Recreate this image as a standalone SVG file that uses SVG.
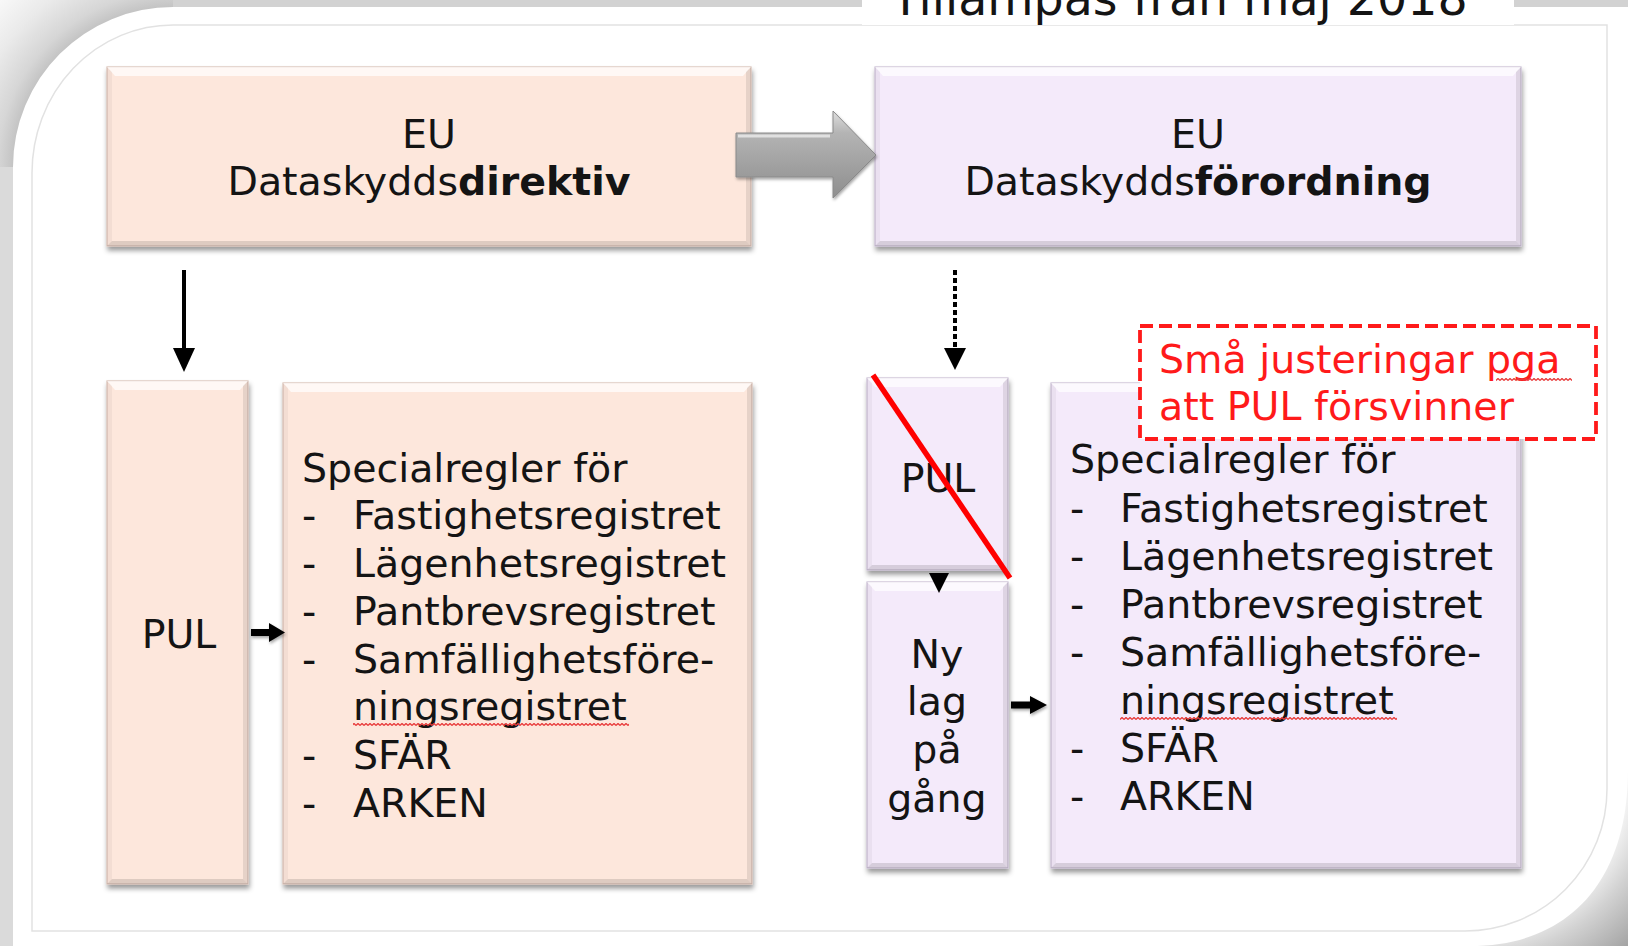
<svg xmlns="http://www.w3.org/2000/svg" width="1628" height="946" viewBox="0 0 1628 946">
<defs>
<style>
text{font-family:"DejaVu Sans",Verdana,"Liberation Sans",sans-serif;font-size:39.5px;fill:#141414}
.c{text-anchor:middle}
.b{font-weight:bold}
.peach{fill:#fde7dc;stroke:#d8bfb4;stroke-width:1.2}
.lav{fill:#f4eafa;stroke:#c8bcd2;stroke-width:1.2}
.hi{fill:#ffffff;opacity:.7}
.lo{fill:#000;opacity:.12}
.rs{fill:#000;opacity:.09}
.ls{fill:#000;opacity:.04}
.rt{fill:#ff1a1a}
.ar{fill:#000}
</style>
<filter id="sh" x="-10%" y="-10%" width="125%" height="130%"><feDropShadow dx="1" dy="4" stdDeviation="2.5" flood-color="#000" flood-opacity="0.4"/></filter>
<filter id="sh2" x="-20%" y="-20%" width="150%" height="160%"><feDropShadow dx="1" dy="2" stdDeviation="1.5" flood-color="#000" flood-opacity="0.35"/></filter>
<radialGradient id="tl" gradientUnits="userSpaceOnUse" cx="173" cy="167" r="240"><stop offset="0" stop-color="#c4c4c4"/><stop offset="0.667" stop-color="#c4c4c4"/><stop offset="0.73" stop-color="#d6d6d6"/><stop offset="0.86" stop-color="#eaeaea"/><stop offset="1" stop-color="#f8f8f8"/></radialGradient>
<radialGradient id="br" gradientUnits="userSpaceOnUse" cx="1470" cy="770" r="236"><stop offset="0" stop-color="#f2f2f2"/><stop offset="0.68" stop-color="#f2f2f2"/><stop offset="0.8" stop-color="#d2d2d2"/><stop offset="1" stop-color="#a4a4a4"/></radialGradient>
<linearGradient id="ga" x1="0" y1="0" x2="0" y2="1"><stop offset="0" stop-color="#dedede"/><stop offset="0.25" stop-color="#b4b4b4"/><stop offset="1" stop-color="#8e8e8e"/></linearGradient>
<pattern id="wavy" width="4" height="3" patternUnits="userSpaceOnUse"><path d="M0,2.5 L2,0.5 L4,2.5" fill="none" stroke="#e83a3a" stroke-width="1.3"/></pattern>
</defs>

<g id="page">
<rect x="0" y="0" width="1628" height="946" fill="#ffffff"/>
<path d="M0,0 L173,0 L173,7 A160,160 0 0 0 13,167 L0,167 Z" fill="url(#tl)"/>
<rect x="173" y="0" width="1455" height="7" fill="#d2d2d2"/>
<rect x="0" y="167" width="13" height="779" fill="#dadada"/>
<path d="M1628,770 C1628,880 1570,946 1470,946 L1628,946 Z" fill="url(#br)"/>
<path d="M173,25 H1607 V789 A142,142 0 0 1 1465,931 H32 V173 A141,148 0 0 1 173,25 Z" fill="none" stroke="#e2e2e2" stroke-width="1.5"/>
</g>

<g id="title">
<rect x="862" y="0" width="652" height="25" fill="#ffffff"/>
<text x="891" y="15" style="font-size:47.5px">Tillämpas från maj 2018</text>
</g>

<g id="node-direktiv">
<rect class="peach" x="107" y="67" width="644" height="179" filter="url(#sh)"/>
<polygon class="hi" points="107,67 751,67 743,76 115,76"/>
<polygon class="lo" points="107,246 751,246 746,241 112,241"/>
<polygon class="rs" points="751,67 751,246 746,241 746,72"/>
<polygon class="ls" points="107,67 112,72 112,241 107,246"/>
<text class="c" x="429" y="148">EU</text>
<text class="c" x="429" y="195">Dataskydds<tspan class="b">direktiv</tspan></text>
</g>

<g id="node-forordning">
<rect class="lav" x="875" y="67" width="646" height="179" filter="url(#sh)"/>
<polygon class="hi" points="875,67 1521,67 1513,76 883,76"/>
<polygon class="lo" points="875,246 1521,246 1516,241 880,241"/>
<polygon class="rs" points="1521,67 1521,246 1516,241 1516,72"/>
<polygon class="ls" points="875,67 880,72 880,241 875,246"/>
<text class="c" x="1198" y="148">EU</text>
<text class="c" x="1198" y="195">Dataskydds<tspan class="b">förordning</tspan></text>
</g>

<g id="node-pul-left">
<rect class="peach" x="107" y="381" width="141" height="503" filter="url(#sh)"/>
<polygon class="hi" points="107,381 248,381 240,390 115,390"/>
<polygon class="lo" points="107,884 248,884 243,879 112,879"/>
<polygon class="rs" points="248,381 248,884 243,879 243,386"/>
<polygon class="ls" points="107,381 112,386 112,879 107,884"/>
<text class="c" x="179" y="648">PUL</text>
</g>

<g id="node-special-left">
<rect class="peach" x="283" y="383" width="469" height="501" filter="url(#sh)"/>
<polygon class="hi" points="283,383 752,383 744,392 291,392"/>
<polygon class="lo" points="283,884 752,884 747,879 288,879"/>
<polygon class="rs" points="752,383 752,884 747,879 747,388"/>
<polygon class="ls" points="283,383 288,388 288,879 283,884"/>
<text x="302" y="482">Specialregler för</text>
<text x="302" y="529">-</text><text x="353" y="529">Fastighetsregistret</text>
<text x="302" y="577">-</text><text x="353" y="577">Lägenhetsregistret</text>
<text x="302" y="625">-</text><text x="353" y="625">Pantbrevsregistret</text>
<text x="302" y="673">-</text><text x="353" y="673">Samfällighetsföre-</text>
<text x="353" y="720">ningsregistret</text>
<rect x="353" y="723" width="276" height="3" fill="url(#wavy)"/>
<text x="302" y="769">-</text><text x="353" y="769">SFÄR</text>
<text x="302" y="817">-</text><text x="353" y="817">ARKEN</text>
</g>

<g id="node-pul-right">
<rect class="lav" x="867" y="378" width="141" height="192" filter="url(#sh)"/>
<polygon class="hi" points="867,378 1008,378 1000,387 875,387"/>
<polygon class="lo" points="867,570 1008,570 1003,565 872,565"/>
<polygon class="rs" points="1008,378 1008,570 1003,565 1003,383"/>
<polygon class="ls" points="867,378 872,383 872,565 867,570"/>
<text class="c" x="938" y="492">PUL</text>
<line x1="873" y1="375" x2="1010" y2="578" stroke="#ff0000" stroke-width="5.5"/>
</g>

<g id="node-nylag">
<rect class="lav" x="867" y="582" width="141" height="286" filter="url(#sh)"/>
<polygon class="hi" points="867,582 1008,582 1000,591 875,591"/>
<polygon class="lo" points="867,868 1008,868 1003,863 872,863"/>
<polygon class="rs" points="1008,582 1008,868 1003,863 1003,587"/>
<polygon class="ls" points="867,582 872,587 872,863 867,868"/>
<text class="c" x="937" y="668">Ny</text>
<text class="c" x="937" y="715">lag</text>
<text class="c" x="937" y="763">på</text>
<text class="c" x="937" y="812">gång</text>
</g>

<g id="node-special-right">
<rect class="lav" x="1051" y="383" width="470" height="485" filter="url(#sh)"/>
<polygon class="hi" points="1051,383 1521,383 1513,392 1059,392"/>
<polygon class="lo" points="1051,868 1521,868 1516,863 1056,863"/>
<polygon class="rs" points="1521,383 1521,868 1516,863 1516,388"/>
<polygon class="ls" points="1051,383 1056,388 1056,863 1051,868"/>
<text x="1070" y="473">Specialregler för</text>
<text x="1070" y="522">-</text><text x="1120" y="522">Fastighetsregistret</text>
<text x="1070" y="570">-</text><text x="1120" y="570">Lägenhetsregistret</text>
<text x="1070" y="618">-</text><text x="1120" y="618">Pantbrevsregistret</text>
<text x="1070" y="666">-</text><text x="1120" y="666">Samfällighetsföre-</text>
<text x="1120" y="714">ningsregistret</text>
<rect x="1120" y="717" width="277" height="3" fill="url(#wavy)"/>
<text x="1070" y="762">-</text><text x="1120" y="762">SFÄR</text>
<text x="1070" y="810">-</text><text x="1120" y="810">ARKEN</text>
</g>

<g id="node-note">
<rect x="1140" y="326" width="456" height="113" fill="#ffffff" stroke="#ff1a1a" stroke-width="3.8" stroke-dasharray="13 6"/>
<text class="rt" x="1159" y="373">Små justeringar pga</text>
<text class="rt" x="1159" y="420">att PUL försvinner</text>
<rect x="1496" y="378" width="76" height="3" fill="url(#wavy)"/>
</g>

<g id="connectors">
<polygon points="736,133 833,133 833,111 876,155 833,198 833,177 736,177" fill="url(#ga)" stroke="#8a8a8a" stroke-width="1" filter="url(#sh2)"/>
<line x1="738" y1="136" x2="830" y2="136" stroke="#ffffff" stroke-opacity="0.6" stroke-width="3"/>
<line x1="184" y1="270" x2="184" y2="350" stroke="#000" stroke-width="4"/>
<polygon class="ar" points="173,348 195,348 184,372"/>
<line x1="955" y1="270" x2="955" y2="350" stroke="#000" stroke-width="4" stroke-dasharray="5 3"/>
<polygon class="ar" points="944,348 966,348 955,370"/>
<polygon class="ar" points="929,573 949,573 939,593"/>
<polygon class="ar" points="251,629 269,629 269,623 285,632.5 269,642 269,636 251,636" filter="url(#sh2)"/>
<polygon class="ar" points="1011,701.5 1030,701.5 1030,696 1047,705 1030,714 1030,708.5 1011,708.5" filter="url(#sh2)"/>
</g>
</svg>
